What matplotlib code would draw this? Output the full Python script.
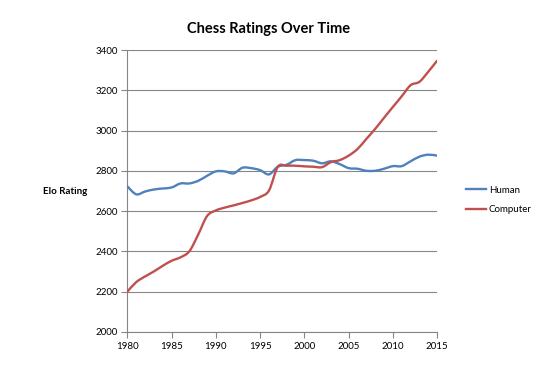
#!/usr/bin/env python3
"""Chess ratings over time: best human vs. best computer Elo (smoothed lines)."""

import matplotlib
matplotlib.use("Agg")
import matplotlib.pyplot as plt
from matplotlib.lines import Line2D
from matplotlib.patches import PathPatch
from matplotlib.path import Path

years = list(range(1980, 2016))
human = [2722, 2683, 2697, 2707, 2712, 2717, 2737, 2737, 2750, 2775,
         2797, 2797, 2787, 2815, 2813, 2803, 2782, 2820, 2830, 2853,
         2853, 2850, 2837, 2847, 2833, 2813, 2810, 2800, 2800, 2810,
         2823, 2823, 2847, 2870, 2880, 2875]
computer = [2200, 2247, 2275, 2300, 2328, 2353, 2370, 2400, 2483, 2575,
            2603, 2617, 2628, 2640, 2653, 2670, 2702, 2820, 2825, 2825,
            2822, 2820, 2818, 2843, 2853, 2875, 2908, 2958, 3008, 3063,
            3117, 3170, 3225, 3242, 3292, 3347]

BLUE = "#4F81BD"
RED = "#C0504D"
GRID = "#868686"

plt.rcParams["font.family"] = ["Lato", "DejaVu Sans"]


def smooth_path(xs, ys, tension=1 / 6):
    """Excel-style smoothed line as cubic Bezier segments (data coords)."""
    verts = [(xs[0], ys[0])]
    codes = [Path.MOVETO]
    n = len(xs)
    for i in range(n - 1):
        x0, y0 = (xs[i - 1], ys[i - 1]) if i > 0 else (xs[i], ys[i])
        x1, y1 = xs[i], ys[i]
        x2, y2 = xs[i + 1], ys[i + 1]
        x3, y3 = (xs[i + 2], ys[i + 2]) if i + 2 < n else (x2, y2)
        c1 = (x1 + (x2 - x0) * tension, y1 + (y2 - y0) * tension)
        c2 = (x2 - (x3 - x1) * tension, y2 - (y3 - y1) * tension)
        verts += [c1, c2, (x2, y2)]
        codes += [Path.CURVE4] * 3
    return Path(verts, codes)


fig = plt.figure(figsize=(5.54, 3.65), dpi=100)
ax = fig.add_axes([0.230, 0.091, 0.559, 0.772])

for ys, color in ((human, BLUE), (computer, RED)):
    ax.add_patch(PathPatch(smooth_path(years, ys), facecolor="none",
                           edgecolor=color, linewidth=1.7,
                           capstyle="round", joinstyle="round", zorder=3))

ax.set_xlim(1980, 2015)
ax.set_ylim(2000, 3400)
ax.set_xticks(range(1980, 2016, 5))
ax.set_yticks(range(2000, 3401, 200))
ax.grid(True, axis="y", color=GRID, linewidth=0.8)
ax.set_axisbelow(True)

for side in ("top", "right"):
    ax.spines[side].set_visible(False)
for side in ("left", "bottom"):
    ax.spines[side].set_color(GRID)
    ax.spines[side].set_linewidth(0.8)
ax.tick_params(axis="both", colors=GRID, labelcolor="black",
               labelsize=7, length=4, width=0.8, pad=3)

fig.text(0.484, 0.92, "Chess Ratings Over Time", ha="center", va="center",
         fontsize=10.5, fontweight="bold")
fig.text(0.078, 0.474, "Elo Rating", ha="left", va="center",
         fontsize=7, fontweight="bold")

handles = [Line2D([], [], color=BLUE, linewidth=1.7),
           Line2D([], [], color=RED, linewidth=1.7)]
fig.legend(handles, ["Human", "Computer"], loc="center left",
           bbox_to_anchor=(0.826, 0.452), frameon=False, fontsize=7,
           handlelength=2.0, handletextpad=0.3, labelspacing=1.1)

fig.savefig("out.png", dpi=100)
